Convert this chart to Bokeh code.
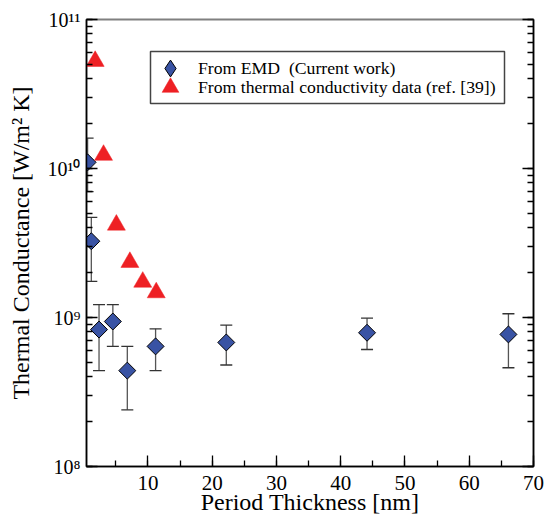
from bokeh.plotting import figure
from bokeh.models import (ColumnDataSource, Whisker, TeeHead, LogAxis, LogTicker, BoxAnnotation,
                          SingleIntervalTicker, Legend, LegendItem, CustomJSTickFormatter)
from bokeh.embed import file_html
from bokeh.resources import INLINE
import numpy as np

# ---- data ----
emd_period = [0.62, 1.2, 2.4, 4.55, 6.8, 11.2, 22.2, 44.1, 66.1]
emd_g      = [1.1e10, 3.25e9, 8.3e8, 9.4e8, 4.4e8, 6.4e8, 6.8e8, 7.9e8, 7.7e8]
emd_upper  = [1.6e10, 4.7e9, 1.22e9, 1.22e9, 6.4e8, 8.4e8, 8.9e8, 9.9e8, 1.06e9]
emd_lower  = [7.0e9, 1.75e9, 4.4e8, 6.4e8, 2.4e8, 4.4e8, 4.8e8, 6.1e8, 4.6e8]

tc_period = [1.8, 3.1, 5.1, 7.2, 9.2, 11.3]
tc_g      = [5.25e10, 1.23e10, 4.18e9, 2.35e9, 1.73e9, 1.47e9]

y_major = [1e8, 1e9, 1e10, 1e11]
y_tick_labels = ["10⁸", "10⁹", "10¹⁰", "10¹¹"]

legend_labels = ["From EMD  (Current work)", "From thermal conductivity data (ref. [39])"]

FONT = "Liberation Serif"
BLUE = "#3953a4"
RED = "#ee2024"

p = figure(width=545, height=519, output_backend="svg", toolbar_location=None,
           y_axis_type="log", x_range=(0.45, 70), y_range=(1e8, 1e11),
           min_border_left=86, min_border_right=12, min_border_top=19,
           min_border_bottom=53)
p.grid.visible = False
p.outline_line_color = "#808080"
p.outline_line_width = 2
p.background_fill_color = "white"

emd_src = ColumnDataSource(dict(x=emd_period, y=emd_g, up=emd_upper, lo=emd_lower))
tc_src = ColumnDataSource(dict(x=tc_period, y=tc_g))

wh = Whisker(source=emd_src, base="x", upper="up", lower="lo", dimension="height",
             line_color="#555555", line_width=1.3,
             upper_head=TeeHead(size=12, line_color="#333333", line_width=1.3),
             lower_head=TeeHead(size=12, line_color="#333333", line_width=1.3))
p.add_layout(wh)

p.scatter("x", "y", source=emd_src, marker="square", angle=np.pi / 4, size=12,
          fill_color=BLUE, line_color="black", line_width=1)
r_tc = p.scatter("x", "y", source=tc_src, marker="triangle", size=18,
                 fill_color=RED, line_color=RED, line_width=0.5)

# hidden renderer used only for the legend's diamond symbol
leg_emd = p.scatter("x", "y", source=emd_src, marker="diamond",
                    fill_color=BLUE, line_color="black", line_width=1, visible=False)

# axes styling
xa = p.xaxis[0]
xa.ticker = SingleIntervalTicker(interval=10, num_minor_ticks=2)
xa.axis_label = "Period Thickness [nm]"
ya = p.yaxis[0]
ya.ticker = LogTicker(mantissas=[1], desired_num_ticks=4, num_minor_ticks=10)
ya.major_label_overrides = {v: s for v, s in zip(y_major, y_tick_labels)}
ya.axis_label = "Thermal Conductance [W/m² K]"

for ax in (xa, ya):
    ax.axis_line_color = "black"
    ax.axis_line_width = 1.5
    ax.major_tick_in = 11
    ax.major_tick_out = 0
    ax.minor_tick_in = 6
    ax.minor_tick_out = 0
    ax.major_tick_line_width = 1.3
    ax.minor_tick_line_width = 1.3
    ax.major_label_text_font = FONT
    ax.major_label_text_font_size = "20px"
    ax.major_label_text_color = "black"
    ax.axis_label_text_font = FONT
    ax.axis_label_text_font_size = "24px"
    ax.axis_label_text_font_style = "normal"
    ax.axis_label_text_color = "black"

xa.major_label_text_font_size = "21px"
xa.major_label_standoff = 9
xa.axis_label_standoff = -4
ya.major_label_standoff = 6
ya.axis_label_standoff = 11

ra = LogAxis(ticker=LogTicker(mantissas=[1], desired_num_ticks=4, num_minor_ticks=10),
             formatter=CustomJSTickFormatter(code="return ''"),
             major_label_text_font_size="10px", major_label_standoff=0,
             axis_line_color="black", axis_line_width=1.5,
             major_tick_in=11, major_tick_out=0, minor_tick_in=6, minor_tick_out=0,
             major_tick_line_width=1.3, minor_tick_line_width=1.3)
p.add_layout(ra, "right")

# legend frame
box = BoxAnnotation(left=64, right=418, bottom=363, top=415,
                    left_units="screen", right_units="screen",
                    bottom_units="screen", top_units="screen",
                    fill_color="white", fill_alpha=1,
                    line_color="#444444", line_width=1.5, line_alpha=1)
p.add_layout(box)


def make_legend(label, renderer, loc):
    lg = Legend(items=[LegendItem(label=label, renderers=[renderer])], location=loc)
    lg.label_text_font = FONT
    lg.label_text_font_size = "17.7px"
    lg.label_text_color = "black"
    lg.padding = 0
    lg.spacing = 0
    lg.glyph_width = 42
    lg.glyph_height = 42
    lg.label_height = 42
    lg.label_standoff = 7
    lg.border_line_alpha = 0
    lg.background_fill_alpha = 0
    lg.inactive_fill_alpha = 0
    lg.margin = 0
    return lg


p.add_layout(make_legend(legend_labels[0], leg_emd, (63, 377)), "center")
p.add_layout(make_legend(legend_labels[1], r_tc, (63, 358)), "center")

open("out.html", "w").write(file_html(p, INLINE))
